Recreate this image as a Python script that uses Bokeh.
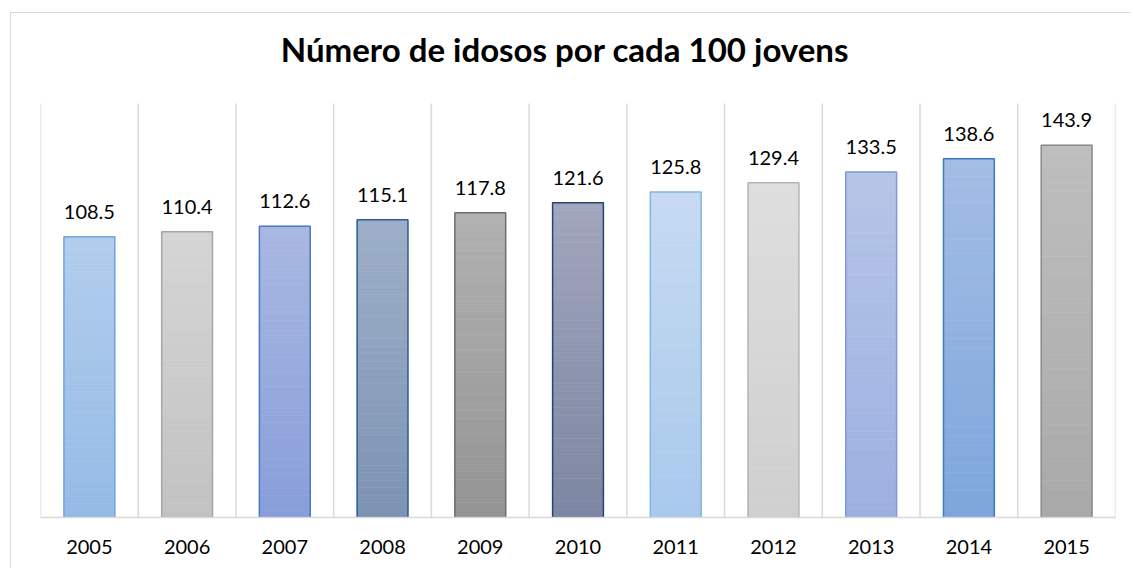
from bokeh.plotting import figure
from bokeh.models import ColumnDataSource, LabelSet, Label, FixedTicker, Range1d
from bokeh.core.properties import value
from bokeh.embed import file_html
from bokeh.resources import INLINE

years = ["2005", "2006", "2007", "2008", "2009", "2010", "2011", "2012", "2013", "2014", "2015"]
values = [108.5, 110.4, 112.6, 115.1, 117.8, 121.6, 125.8, 129.4, 133.5, 138.6, 143.9]
title_text = "Número de idosos por cada 100 jovens"

top_colors = ["#b2cdec", "#d5d5d5", "#a9b8e1", "#9dafc8", "#b1b1b1", "#a0a6bc",
              "#c6daf2", "#dedede", "#b6c5e7", "#a3bde4", "#bebebe"]
bottom_colors = ["#94bbe6", "#c2c2c2", "#889eda", "#7d93b4", "#949494", "#7d86a2",
                 "#a8c9ec", "#cfcfcf", "#9cb0e0", "#7ea6dc", "#a9a9a9"]
border_colors = ["#6ea6de", "#a6a6a6", "#4a78cb", "#2e5f94", "#6e6e6e", "#2b4170",
                 "#86b6e4", "#b5b5b5", "#7e9ad9", "#3a7ac5", "#8c8c8c"]

FONT = "Lato"
N = 40
BAR_W = 0.52
PLOT_TOP = 160          # top of the plot area (value axis maximum)
FIG_H = 556
BORDER_BOTTOM = 52
PLOT_PX = 414           # pixel height of the plot area below the title band
FRAME_PX = FIG_H - BORDER_BOTTOM

positions = [i + 0.5 for i in range(len(years))]
boundaries = list(range(len(years) + 1))


def hex2rgb(h):
    h = h.lstrip("#")
    return tuple(int(h[i:i + 2], 16) for i in (0, 2, 4))


def lerp(c0, c1, t):
    a, b = hex2rgb(c0), hex2rgb(c1)
    return "#%02x%02x%02x" % tuple(int(round(a[j] + (b[j] - a[j]) * t)) for j in range(3))


p = figure(width=1120, height=FIG_H, x_range=(0, len(years)),
           y_range=Range1d(0, PLOT_TOP * FRAME_PX / PLOT_PX),
           output_backend="svg", toolbar_location=None,
           min_border_left=29, min_border_right=16, min_border_top=0,
           min_border_bottom=BORDER_BOTTOM,
           styles={"border-top": "1px solid #d9d9d9", "border-left": "1px solid #d9d9d9",
                   "margin-top": "12px", "margin-left": "10px"})
p.outline_line_color = None
p.background_fill_color = "white"
p.border_fill_color = "white"

# vertical gridlines between categories
p.segment(x0=boundaries, x1=boundaries, y0=[0] * len(boundaries), y1=[PLOT_TOP] * len(boundaries),
          line_color="#d9d9d9", line_width=1.5)

# gradient bars as stacked slices
sx, sb, st, sc = [], [], [], []
for i, v in enumerate(values):
    for k in range(N):
        sx.append(positions[i])
        sb.append(v * k / N)
        st.append(v * (k + 1) / N)
        sc.append(lerp(bottom_colors[i], top_colors[i], (k + 0.5) / N))
slices = ColumnDataSource(dict(x=sx, bottom=sb, top=st, color=sc))
p.vbar(x="x", bottom="bottom", top="top", width=BAR_W, source=slices,
       fill_color="color", line_color="color", line_width=0.6)

src = ColumnDataSource(dict(x=positions, value=values, border=border_colors,
                            label=[f"{v:.1f}" for v in values]))
p.vbar(x="x", top="value", bottom=0, width=BAR_W, source=src,
       fill_color=None, line_color="border", line_width=1.5)

labels = LabelSet(x="x", y="value", text="label", source=src, y_offset=18,
                  text_align="center", text_baseline="alphabetic",
                  text_font=value(FONT), text_font_size="20px", text_color="#000000")
p.add_layout(labels)

title = Label(x=len(years) / 2, y=PLOT_TOP, text=title_text, x_offset=-13, y_offset=55,
              text_align="center", text_baseline="alphabetic",
              text_font=FONT, text_font_size="33px", text_font_style="bold",
              text_color="#000000")
p.add_layout(title)

p.yaxis.visible = False
p.ygrid.visible = False
p.xgrid.visible = False

p.xaxis.ticker = FixedTicker(ticks=positions)
p.xaxis.major_label_overrides = {pos: y for pos, y in zip(positions, years)}
p.xaxis.axis_line_color = "#d9d9d9"
p.xaxis.axis_line_width = 1.5
p.xaxis.major_tick_line_color = None
p.xaxis.minor_tick_line_color = None
p.xaxis.major_label_standoff = 16
p.xaxis.major_label_text_font = FONT
p.xaxis.major_label_text_font_size = "20px"
p.xaxis.major_label_text_color = "#000000"

open("out.html", "w").write(file_html(p, INLINE))
